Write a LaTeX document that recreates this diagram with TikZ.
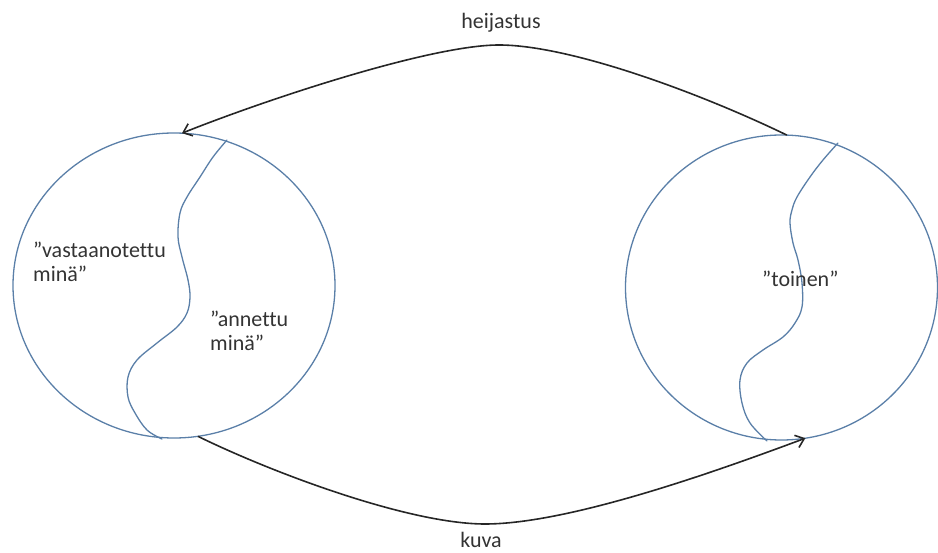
\documentclass[tikz,border=0pt]{standalone}
\usepackage{fontspec}
\setmainfont{Carlito}[Ligatures=NoCommon]
\usetikzlibrary{shapes.geometric,arrows.meta}

\definecolor{ringblue}{HTML}{5A7FA8}
\definecolor{labelgray}{HTML}{333333}

% two left-aligned lines whose baseline is the first line
\newcommand{\stackedlabel}[2]{\begin{tabular}[t]{@{}l@{}}#1\\#2\end{tabular}}

\tikzset{
  ring/.style={ellipse, draw=ringblue, line width=1.3pt, inner sep=0pt, outer sep=0pt},
  divide/.style={draw=ringblue, line width=1.3pt, line cap=round},
  flow/.style={draw=black!85, line width=1.6pt,
    -{Straight Barb[length=8pt,width=13pt,line width=1.6pt]}},
  caption/.style={inner sep=0pt, text=labelgray,
    font=\fontsize{22}{24}\selectfont}
}

\begin{document}
\begin{tikzpicture}[x=1pt, y=-1pt]
  \useasboundingbox (0,0) rectangle (938,553);

  % the two persons
  \node[ring, minimum width=322pt, minimum height=305pt] (self) at (174,285.5) {};
  \node[ring, minimum width=312pt, minimum height=305pt] (other) at (781.5,287.5) {};

  % wavy dividing lines inside each circle
  \path[divide] plot[smooth, tension=0.6] coordinates {
    (227,140) (213,157) (200,177) (187,197) (180,213) (178,237) (182,257)
    (188,280) (190,297) (187,313) (177,327) (157,343) (137,360) (128,377)
    (128,397) (135,413) (147,430) (162,439)};
  \path[divide] plot[smooth, tension=0.6] coordinates {
    (838,143) (823,160) (810,177) (797,197) (792,210) (790,223) (793,243)
    (798,260) (802,283) (802,307) (795,323) (783,337) (763,350) (747,363)
    (740,380) (742,403) (750,423) (767,441)};

  % texts inside the circles
  \node[caption, anchor=base west] (received) at (33,258)
    {\stackedlabel{”vastaanotettu}{minä”}};
  \node[caption, anchor=base west] (given) at (210,327)
    {\stackedlabel{”annettu}{minä”}};
  \node[caption, anchor=base west] (toinen) at (762,287) {”toinen”};

  % connectors between the circles
  \draw[flow] (other.88) .. controls (700,93) and (570,45) .. (499,45)
    .. controls (430,45) and (265,100) .. (self.87);
  \draw[flow] (self.-81) .. controls (275,474) and (410,524) .. (485,524)
    .. controls (570,524) and (720,470) .. (other.-81);

  \node[caption, anchor=base] (reflect) at (501,29) {heijastus};
  \node[caption, anchor=base] (image) at (481,547) {kuva};
\end{tikzpicture}
\end{document}
